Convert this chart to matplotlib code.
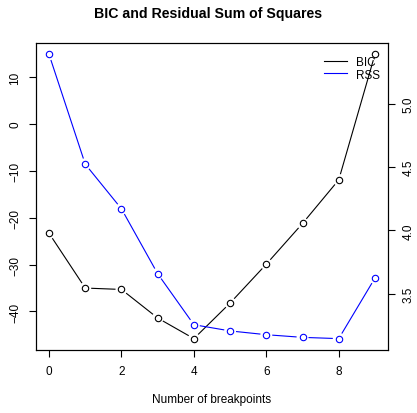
import numpy as np
import matplotlib
matplotlib.use("Agg")
import matplotlib.pyplot as plt
from matplotlib.lines import Line2D

plt.rcParams['font.family'] = ['Liberation Sans', 'DejaVu Sans']

# values
breaks = [0, 1, 2, 3, 4, 5, 6, 7, 8, 9]
bic = [-23.3, -35.0, -35.3, -41.4, -45.8, -38.2, -29.9, -21.2, -11.9, 14.9]
rss = [5.392, 4.524, 4.171, 3.658, 3.255, 3.206, 3.176, 3.155, 3.145, 3.624]
left_ticks = [-40, -30, -20, -10, 0, 10]
right_ticks = [3.5, 4.0, 4.5, 5.0]
x_ticks = [0, 2, 4, 6, 8]

W, H = 417, 414
fig = plt.figure(figsize=(W / 100, H / 100), dpi=100)
ax1 = fig.add_axes([36 / W, 1 - 351 / H, (388 - 36) / W, (351 - 44) / H])
ax2 = ax1.twinx()


def r_lim(v):
    # R style axis range: data range padded by 4% on each side
    lo, hi = min(v), max(v)
    d = (hi - lo) * 0.04
    return lo - d, hi + d


def draw_b(ax, x, y, color, gap=6.5):
    """R type='b': points joined by lines that stop short of the symbols."""
    pts = ax.transData.transform(np.column_stack([x, y]))
    inv = ax.transData.inverted()
    for p, q in zip(pts[:-1], pts[1:]):
        d = q - p
        n = np.hypot(*d)
        if n <= 2 * gap:
            continue
        u = d / n
        a, b = inv.transform(np.array([p + u * gap, q - u * gap]))
        ax.plot([a[0], b[0]], [a[1], b[1]], color=color, lw=0.8)
    ax.plot(x, y, 'o', mfc='none', mec=color, ms=4.6, mew=0.8, ls='none')


for ax in (ax1, ax2):
    ax.set_xlim(*r_lim(breaks))
ax1.set_ylim(*r_lim(bic))
ax2.set_ylim(*r_lim(rss))

draw_b(ax1, breaks, bic, 'black')
draw_b(ax2, breaks, rss, 'blue')

fs = 8.5
ax1.set_xticks(x_ticks)
ax1.set_yticks(left_ticks)
ax2.set_yticks(right_ticks)
ax2.set_yticklabels([f"{t:.1f}" for t in right_ticks])
ax1.tick_params(axis='both', labelsize=fs, length=5, width=0.8)
ax1.tick_params(axis='x', pad=6)
ax1.tick_params(axis='y', pad=5.5)
ax2.tick_params(axis='y', labelsize=fs, length=5, width=0.8, pad=5.5)
for lab in ax1.get_yticklabels() + ax2.get_yticklabels():
    lab.set_rotation(90)
    lab.set_va('center')
for ax in (ax1, ax2):
    for s in ax.spines.values():
        s.set_linewidth(0.8)

ax1.set_xlabel('Number of breakpoints', fontsize=fs, labelpad=11)
fig.text(0.5, 1 - 14 / H, 'BIC and Residual Sum of Squares',
         ha='center', va='center', fontsize=10.2, fontweight='bold')

handles = [Line2D([], [], color='black', lw=0.8), Line2D([], [], color='blue', lw=0.8)]
ax2.legend(handles, ['BIC', 'RSS'], loc='upper right', frameon=False, fontsize=fs,
           handlelength=2.0, handletextpad=0.75, labelspacing=0.07,
           borderaxespad=0.0, bbox_to_anchor=(0.991, 0.974))

fig.savefig('out.png', dpi=100)
